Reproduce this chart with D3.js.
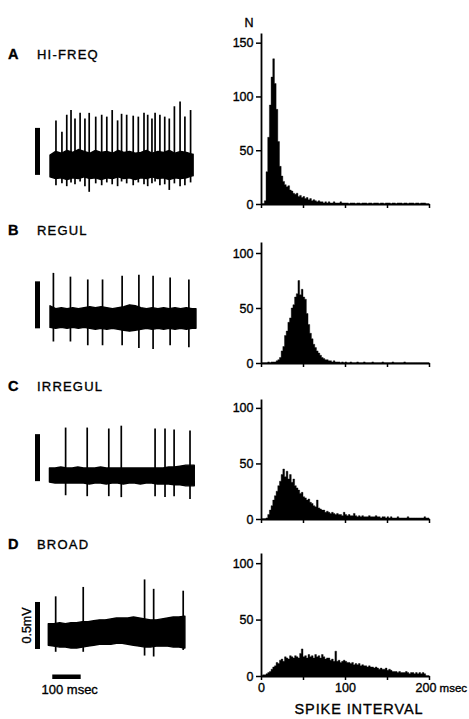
<!DOCTYPE html>
<html>
<head>
<meta charset="utf-8">
<script src="https://cdn.jsdelivr.net/npm/d3@7"></script>
<style>
  body { margin: 0; background: #fff; }
  svg { display: block; font-family: "Liberation Sans", Arial, sans-serif; }
</style>
</head>
<body>
<svg id="fig" width="469" height="719"></svg>
<script>
// ---- data -------------------------------------------------------------
const letters = ['A', 'B', 'C', 'D']
const names = ['HI-FREQ', 'REGUL', 'IRREGUL', 'BROAD']

// spike interval histograms, 2 msec bins from 0 to 200 msec (counts N)
const binWidth = 2
const histA = [
  0, 0, 3, 30, 62, 92, 118, 135, 112, 88, 58, 35, 26, 21, 18, 16, 17, 13, 12, 10,
  9, 10, 7, 8, 6, 7, 5, 6, 4, 5, 3, 4, 3, 2, 3, 2, 2, 1, 2, 1,
  2, 1, 1, 2, 1, 1, 1, 2, 1, 1, 1, 1, 0, 1, 1, 1, 0, 1, 1, 0,
  1, 1, 1, 0, 1, 1, 0, 1, 1, 1, 0, 1, 1, 0, 1, 1, 1, 0, 1, 1,
  0, 1, 1, 1, 0, 1, 1, 0, 1, 1, 1, 0, 1, 1, 0, 1, 1, 1, 0, 0
]
const histB = [
  0, 0, 0, 0, 1, 0, 1, 1, 1, 2, 3, 5, 11, 15, 25, 29, 37, 41, 50, 53,
  60, 63, 75, 62, 67, 60, 58, 45, 35, 27, 22, 17, 14, 11, 9, 7, 5, 4, 3, 3,
  2, 2, 1, 2, 1, 1, 1, 0, 1, 0, 1, 0, 0, 1, 0, 0, 0, 1, 0, 0,
  0, 1, 0, 0, 0, 0, 1, 0, 0, 0, 0, 0, 1, 0, 0, 0, 0, 0, 1, 0,
  0, 0, 0, 0, 0, 1, 0, 0, 0, 0, 0, 0, 0, 0, 0, 0, 0, 0, 0, 0
]
const histC = [
  0, 0, 0, 1, 4, 8, 12, 17, 21, 25, 30, 34, 40, 45, 38, 43, 36, 40, 33, 36,
  30, 28, 26, 23, 24, 20, 19, 17, 18, 15, 14, 12, 11, 17, 10, 9, 8, 8, 6, 7,
  6, 5, 6, 5, 4, 5, 4, 4, 3, 6, 4, 3, 4, 3, 3, 5, 3, 2, 3, 2,
  3, 2, 2, 2, 3, 2, 2, 2, 3, 2, 2, 1, 2, 2, 1, 2, 1, 2, 1, 1,
  1, 2, 1, 1, 1, 1, 1, 2, 1, 1, 1, 1, 1, 1, 1, 1, 1, 2, 1, 1
]
const histD = [
  0, 1, 1, 2, 3, 4, 6, 8, 9, 12, 11, 14, 15, 13, 17, 16, 15, 18, 17, 16,
  18, 17, 16, 20, 24, 17, 18, 16, 19, 17, 18, 16, 19, 17, 18, 16, 19, 17, 15, 16,
  16, 14, 15, 13, 22, 13, 14, 12, 13, 14, 13, 12, 12, 11, 12, 10, 11, 10, 11, 9,
  10, 9, 9, 8, 9, 8, 8, 7, 8, 7, 6, 7, 6, 6, 7, 5, 6, 5, 4, 4,
  4, 3, 4, 3, 3, 3, 4, 3, 2, 3, 3, 2, 3, 2, 3, 2, 3, 2, 0, 0
]
const hists = [histA, histB, histC, histD]
const histMax = [159, 110, 108, 109]
const yTicksA = [0, 50, 100, 150]
const yTicksRest = [0, 50, 100]
const xTicks = [0, 50, 100, 150, 200]
const xTickLabels = [0, 100, 200]

// recordings: trace span (msec), band envelope every 20 msec (mV),
// spike times (msec) with upward and downward excursions (mV)
const traceStart = [0, 0, -2, -6]
const traceEnd = [504, 514, 508, 475]
const bandTopA = [0.11, 0.15, 0.13, 0.16, 0.14, 0.17, 0.15, 0.13, 0.16, 0.14, 0.15, 0.13, 0.16,
  0.14, 0.15, 0.13, 0.14, 0.16, 0.13, 0.15, 0.14, 0.16, 0.13, 0.15, 0.14, 0.12]
const bandBotA = [-0.12, -0.14, -0.13, -0.15, -0.13, -0.14, -0.12, -0.14, -0.13, -0.15, -0.13, -0.14, -0.12,
  -0.14, -0.13, -0.15, -0.13, -0.14, -0.12, -0.14, -0.13, -0.15, -0.13, -0.14, -0.13, -0.11]
const bandTopB = [0.13, 0.10, 0.11, 0.10, 0.11, 0.10, 0.11, 0.12, 0.11, 0.12, 0.11, 0.10, 0.11,
  0.12, 0.14, 0.13, 0.11, 0.10, 0.11, 0.10, 0.11, 0.10, 0.11, 0.10, 0.11, 0.10]
const bandBotB = [-0.10, -0.11, -0.10, -0.11, -0.10, -0.11, -0.10, -0.11, -0.12, -0.11, -0.12, -0.11, -0.12,
  -0.13, -0.14, -0.13, -0.12, -0.11, -0.12, -0.11, -0.12, -0.11, -0.12, -0.11, -0.12, -0.11]
const bandTopC = [0.08, 0.08, 0.09, 0.08, 0.08, 0.09, 0.08, 0.08, 0.08, 0.09, 0.08, 0.08, 0.08,
  0.08, 0.08, 0.08, 0.08, 0.08, 0.08, 0.08, 0.08, 0.09, 0.09, 0.10, 0.11, 0.11]
const bandBotC = [-0.07, -0.08, -0.08, -0.08, -0.08, -0.08, -0.08, -0.09, -0.08, -0.08, -0.09, -0.08, -0.08,
  -0.09, -0.08, -0.08, -0.09, -0.08, -0.08, -0.09, -0.09, -0.09, -0.10, -0.10, -0.11, -0.11]
const bandTopD = [0.10, 0.10, 0.11, 0.10, 0.11, 0.11, 0.12, 0.12, 0.13, 0.14, 0.14, 0.15, 0.16,
  0.16, 0.16, 0.17, 0.16, 0.15, 0.14, 0.14, 0.15, 0.16, 0.17, 0.17, 0.18]
const bandBotD = [-0.13, -0.14, -0.15, -0.15, -0.16, -0.16, -0.15, -0.14, -0.13, -0.12, -0.12, -0.12, -0.11,
  -0.11, -0.12, -0.13, -0.14, -0.15, -0.15, -0.14, -0.14, -0.14, -0.15, -0.15, -0.16]

const spikeTA = [21, 42, 59, 74, 88, 106, 123, 138, 161, 182, 200, 219, 238, 252, 270, 293, 311, 331,
  344, 359, 370, 387, 404, 420, 438, 458, 475, 495]
const spikeUpA = [0.48, 0.36, 0.54, 0.59, 0.50, 0.56, 0.50, 0.56, 0.52, 0.54, 0.52, 0.59, 0.48, 0.55,
  0.54, 0.53, 0.52, 0.56, 0.54, 0.50, 0.56, 0.54, 0.52, 0.50, 0.63, 0.68, 0.52, 0.59]
const spikeDownA = [0.21, 0.19, 0.22, 0.18, 0.20, 0.17, 0.22, 0.28, 0.19, 0.21, 0.18, 0.20, 0.22, 0.17,
  0.19, 0.21, 0.18, 0.20, 0.22, 0.19, 0.17, 0.21, 0.20, 0.26, 0.19, 0.22, 0.21, 0.18]
const spikeTB = [12, 72, 133, 185, 254, 313, 363, 423, 489]
const spikeUpB = [0.48, 0.44, 0.41, 0.41, 0.45, 0.46, 0.45, 0.43, 0.41]
const spikeDownB = [0.25, 0.25, 0.29, 0.29, 0.29, 0.32, 0.33, 0.29, 0.31]
const spikeTC = [55, 131, 207, 251, 370, 405, 437, 493]
const spikeUpC = [0.51, 0.51, 0.50, 0.53, 0.50, 0.50, 0.49, 0.48]
const spikeDownC = [0.21, 0.22, 0.22, 0.23, 0.22, 0.23, 0.22, 0.25]
const spikeTD = [20, 117, 333, 365, 469]
const spikeUpD = [0.39, 0.49, 0.57, 0.47, 0.45]
const spikeDownD = [0.20, 0.20, 0.24, 0.25, 0.18]

const bandTops = [bandTopA, bandTopB, bandTopC, bandTopD]
const bandBots = [bandBotA, bandBotB, bandBotC, bandBotD]
const spikeTs = [spikeTA, spikeTB, spikeTC, spikeTD]
const spikeUps = [spikeUpA, spikeUpB, spikeUpC, spikeUpD]
const spikeDowns = [spikeDownA, spikeDownB, spikeDownC, spikeDownD]

// ---- layout -----------------------------------------------------------
const labelY = [58.5, 235, 391, 548.5]
const traceMid = [165.5, 318, 475.5, 633]
const barBase = [-0.1, -0.11, -0.06, -0.17]   // lower end of the 0.5 mV bar, mV from trace middle
const histBottom = [204, 363, 519, 676]
const histTop = [33, 242, 399, 553]
const pxPerMv = 94
const ink = '#000'
const font = '"Liberation Sans", Arial, sans-serif'

const svg = d3.select('#fig')

const xT = d3.scaleLinear().domain([0, 500]).range([50, 192])
const xH = d3.scaleLinear().domain([0, 200]).range([261, 429])

function inkText(sel, size) {
  return sel.attr('font-size', size)
    .attr('fill', ink)
    .attr('stroke', ink)
    .attr('stroke-width', 0.35)
}

letters.forEach((letter, i) => {
  // panel title
  svg.append('text')
    .attr('x', 8)
    .attr('y', labelY[i])
    .attr('font-weight', 'bold')
    .call(inkText, 14.5)
    .text(letter)
  svg.append('text')
    .attr('x', 37)
    .attr('y', labelY[i])
    .attr('letter-spacing', 1.2)
    .call(inkText, 13)
    .text(names[i])

  // recording
  let yV = d3.scaleLinear().domain([-1, 1]).range([traceMid[i] + pxPerMv, traceMid[i] - pxPerMv])
  let g = svg.append('g')

  let env = bandTops[i].map((v, j) => ({
    t: Math.min(traceStart[i] + 20 * j, traceEnd[i]),
    top: v,
    bot: bandBots[i][j]
  }))
  env.push({t: traceEnd[i], top: bandTops[i][bandTops[i].length - 1], bot: bandBots[i][bandBots[i].length - 1]})

  let band = d3.area()
    .x(d => xT(d.t))
    .y0(d => yV(d.bot))
    .y1(d => yV(d.top))
  g.append('path')
    .datum(env)
    .attr('d', band)
    .attr('fill', ink)
    .attr('stroke', ink)
    .attr('stroke-width', 1.4)
    .attr('stroke-linejoin', 'round')

  let spikes = spikeTs[i].map((t, j) => ({t: t, up: spikeUps[i][j], down: spikeDowns[i][j]}))
  g.selectAll('line.spike')
    .data(spikes)
    .join('line')
    .classed('spike', true)
    .attr('x1', d => xT(d.t))
    .attr('x2', d => xT(d.t))
    .attr('y1', d => yV(-d.down))
    .attr('y2', d => yV(d.up))
    .attr('stroke', ink)
    .attr('stroke-width', 1.7)

  // 0.5 mV calibration bar
  g.append('rect')
    .attr('x', 35)
    .attr('y', yV(barBase[i] + 0.5))
    .attr('width', 5)
    .attr('height', yV(barBase[i]) - yV(barBase[i] + 0.5))
    .attr('fill', ink)

  if (i == 3) {
    g.append('text')
      .attr('transform', `translate(27, ${yV(barBase[i] + 0.25)}) rotate(-90)`)
      .attr('text-anchor', 'middle')
      .attr('dy', '0.35em')
      .call(inkText, 12.5)
      .text('0.5mV')

    let t0 = 8
    g.append('rect')
      .attr('x', xT(t0))
      .attr('y', 674.5)
      .attr('width', xT(t0 + 100) - xT(t0))
      .attr('height', 4.5)
      .attr('fill', ink)
    g.append('text')
      .attr('x', 41.5)
      .attr('y', 694)
      .call(inkText, 13)
      .text('100 msec')
  }

  // interval histogram, drawn as one stepped outline so bins join without seams
  let yH = d3.scaleLinear().domain([0, histMax[i]]).range([histBottom[i], histTop[i]])
  let h = svg.append('g')
  let bins = hists[i].map((v, j) => ({t: j * binWidth, v: v}))
  bins.push({t: 200, v: 0})
  h.append('path')
    .datum(bins)
    .attr('d', d3.area()
      .curve(d3.curveStepAfter)
      .x(d => xH(d.t))
      .y0(yH(0))
      .y1(d => yH(d.v)))
    .attr('fill', ink)
    .attr('stroke', ink)
    .attr('stroke-width', 0.4)

  let yAxis = d3.axisLeft(yH)
    .tickValues(i == 0 ? yTicksA : yTicksRest)
    .tickSize(5)
    .tickSizeOuter(0)
    .tickPadding(2.5)
  let ya = h.append('g')
    .attr('transform', `translate(${xH(0)}, 0)`)
    .call(yAxis)
  ya.select('.domain').attr('stroke', ink).attr('stroke-width', 1.8)
  ya.selectAll('.tick line').attr('stroke', ink).attr('stroke-width', 1.5)
  ya.selectAll('.tick text')
    .attr('font-family', font)
    .call(inkText, 12.5)

  let xAxis = d3.axisBottom(xH)
    .tickValues(xTicks)
    .tickSize(4)
    .tickSizeOuter(0)
    .tickPadding(3)
    .tickFormat(d => i == 3 && xTickLabels.includes(d) ? d : '')
  let xa = h.append('g')
    .attr('transform', `translate(0, ${yH(0)})`)
    .call(xAxis)
  xa.select('.domain').attr('stroke', ink).attr('stroke-width', 1.8)
  xa.selectAll('.tick line').attr('stroke', ink).attr('stroke-width', 1.5)
  xa.selectAll('.tick text')
    .attr('font-family', font)
    .call(inkText, 12.5)

  if (i == 3) {
    let last = xa.selectAll('.tick text').filter(d => d == 200)
    last.text('')
      .attr('text-anchor', 'start')
      .attr('x', -14)
    last.append('tspan').text('200')
    last.append('tspan').attr('font-size', 11.5).text(' msec')
  }
})

svg.append('text')
  .attr('x', 249)
  .attr('y', 26.5)
  .attr('text-anchor', 'middle')
  .call(inkText, 12.5)
  .text('N')

svg.append('text')
  .attr('x', 359)
  .attr('y', 713.5)
  .attr('text-anchor', 'middle')
  .attr('letter-spacing', 0.9)
  .call(inkText, 14.5)
  .text('SPIKE INTERVAL')
</script>
</body>
</html>
